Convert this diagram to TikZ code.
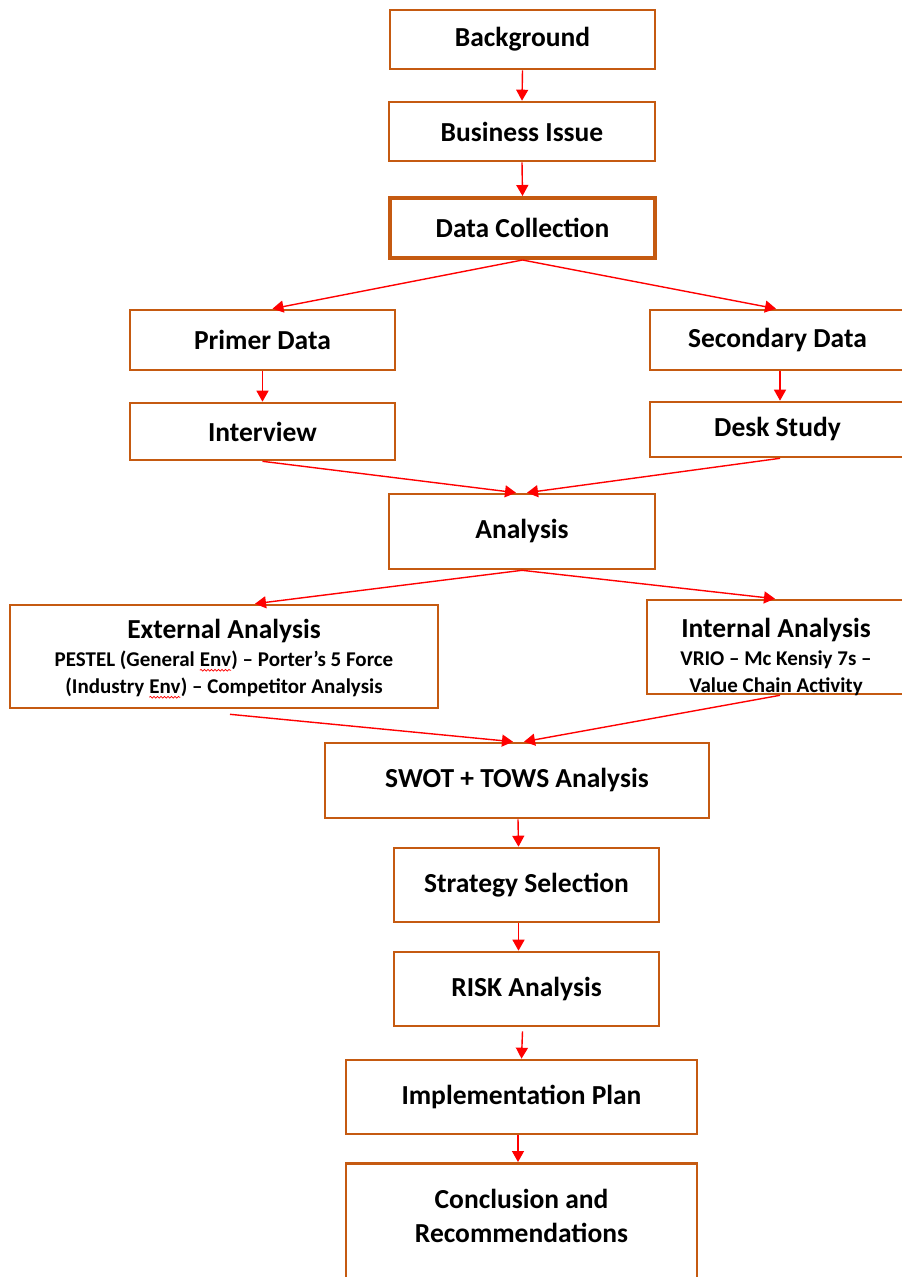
\documentclass[tikz,border=0pt]{standalone}
\usepackage{fontspec}
\setmainfont{Carlito}
\usetikzlibrary{arrows.meta,decorations.pathmorphing}
\definecolor{boxc}{HTML}{C55A11}
\definecolor{arr}{HTML}{FF0000}
\newcommand{\wavyword}[1]{\tikz[baseline=(w.base)]{\node[inner sep=0pt,outer sep=0pt,draw=none,fill=none,minimum width=0pt,minimum height=0pt,anchor=base] (w) {#1};\draw[red,line width=0.7pt,decorate,decoration={snake,amplitude=0.9pt,segment length=3.5pt}] ([yshift=-3.5pt]w.base west) -- ([yshift=-3.5pt]w.base east);}}
\newcommand{\headfont}{\fontsize{27.5}{27}\selectfont}
\begin{document}
\begin{tikzpicture}[x=1pt,y=-1pt,
 box/.style={draw=boxc, line width=2.6pt, fill=white, inner sep=0pt, font=\fontsize{27.5}{33}\selectfont\bfseries, align=center},
 subtext/.style={inner sep=0pt, font=\fontsize{21}{27}\selectfont\bfseries, align=center},
 arrow/.style={draw=arr, line width=1.4pt, -{Triangle[length=11pt,width=12pt]}}]
\useasboundingbox (0,0) rectangle (902,1277);
\fill[white] (0,0) rectangle (902,1277);
\clip (0,0) rectangle (902,1277);
% boxes
\node[box, minimum width=265pt, minimum height=59pt] (bg) at (522.5,39.5) {Background};
\node[box, minimum width=266pt, minimum height=59pt] (bi) at (522,131.5) {Business Issue};
\node[box, line width=4pt, minimum width=265pt, minimum height=60pt] (dc) at (522.5,228) {Data Collection};
\node[box, minimum width=265pt, minimum height=60pt] (pd) at (262.5,340) {Primer Data};
\node[box, minimum width=260pt, minimum height=60pt] (sd) at (780,340) {\hspace*{-5pt}Secondary Data};
\node[box, minimum width=265pt, minimum height=57pt] (iv) at (262.5,431.5) {Interview};
\node[box, minimum width=260pt, minimum height=55pt] (ds) at (780,429.5) {\hspace*{-5pt}Desk Study};
\node[box, minimum width=266pt, minimum height=75pt] (an) at (522,531.5) {Analysis};
\node[box, minimum width=428pt, minimum height=103pt] (ext) at (224,656.5) {};
\node[subtext] (extt) at (224,659) {{\headfont External Analysis}\\[1pt]
  PESTEL (General \wavyword{Env}) -- Porter’s 5 Force\\
  (Industry \wavyword{Env}) -- Competitor Analysis};
\node[box, minimum width=262pt, minimum height=94pt] (int) at (778,647) {};
\node[subtext] (intt) at (776,656.5) {{\headfont Internal Analysis}\\[1pt]
  VRIO -- Mc Kensiy 7s --\\
  Value Chain Activity};
\node[box, minimum width=384pt, minimum height=75pt] (swot) at (517,780.5) {SWOT + TOWS Analysis};
\node[box, minimum width=265pt, minimum height=74pt] (ss) at (526.5,885) {Strategy Selection};
\node[box, minimum width=265pt, minimum height=74pt] (risk) at (526.5,989) {RISK Analysis};
\node[box, minimum width=351pt, minimum height=74pt] (impl) at (521.5,1097) {Implementation Plan};
\node[box, minimum width=351pt, minimum height=150pt, anchor=north] (conc) at (521.5,1162) {};
\node[font=\fontsize{27.5}{34}\selectfont\bfseries, align=center, inner sep=0pt] (conct) at (521.5,1216) {Conclusion and\\Recommendations};
% arrows
\draw[arrow] (bg.south) -- (bi.north);
\draw[arrow] (bi.south) -- (dc.north);
\draw[arrow] (dc.south) -- ([xshift=10pt]pd.north);
\draw[arrow] (dc.south) -- ([xshift=-4pt]sd.north);
\draw[arrow] (pd.south) -- (iv.north);
\draw[arrow] (sd.south) -- (ds.north);
\draw[arrow] (iv.south) -- ([xshift=-6pt]an.north);
\draw[arrow] (ds.south) -- ([xshift=5pt]an.north);
\draw[arrow] (an.south) -- ([xshift=31pt]ext.north);
\draw[arrow] (an.south) -- ([xshift=-3pt]int.north);
\draw[arrow] ([xshift=6pt,yshift=-5pt]ext.south) -- ([xshift=-4pt]swot.north);
\draw[arrow] ([xshift=2pt]int.south) -- ([xshift=7pt]swot.north);
\draw[arrow] ([xshift=1pt]swot.south) -- ([xshift=-8pt]ss.north);
\draw[arrow] ([xshift=-8pt]ss.south) -- ([xshift=-8pt]risk.north);
\draw[arrow] ([xshift=-4pt,yshift=-4pt]risk.south) -- ([xshift=0pt]impl.north);
\draw[arrow] ([xshift=-3.5pt]impl.south) -- ([xshift=-3.5pt]conc.north);
\end{tikzpicture}
\end{document}
